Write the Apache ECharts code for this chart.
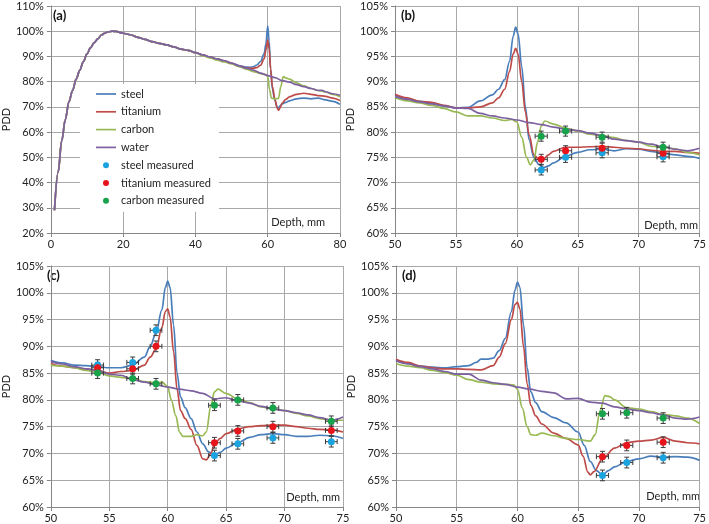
<!DOCTYPE html>
<html>
<head>
<meta charset="utf-8">
<script src="https://cdn.jsdelivr.net/npm/echarts@6/dist/echarts.min.js"></script>
<style>
  html, body { margin: 0; padding: 0; background: #fff; }
  #pdd { width: 709px; height: 524px; }
</style>
</head>
<body>
<div id="pdd"></div>
<script>
// ---- panel (a): full depth range, same build-up for every material ----
var aCommon = [[1,29],[2,44],[3,56.5],[4,65],[5,72],[6,76.5],[7,81],[8,84.5],[9,88],[10,91],[11,93.5],[12,95.5],[13,97],[14,98.5],[15,99.3],[16,99.8],[17,100],[18,99.9],[20,99.2],[22,98.6],[24,97.6],[26,96.8],[28,95.9],[30,95.2],[32,94.6],[34,93.8],[36,92.9],[38,92.4],[40,91.5]];
var aSteelTail = [[42,90.6],[44,89.8],[46,89],[48,88.2],[50,87.3],[52,86.4],[54,85.8],[55,85.7],[56,85.9],[57,86.6],[58,88],[59,91],[59.5,95],[60,102],[60.4,96],[60.8,85],[61.3,77],[62,72.5],[62.6,70],[63,69.5],[63.5,70.5],[64,71.2],[65,71.8],[66,72.4],[68,73.2],[70,73.5],[72,73.2],[74,73.5],[76,72.8],[78,72.2],[80,71]];
var aTitaniumTail = [[42,90.6],[44,89.8],[46,89],[48,88.2],[50,87.4],[52,86.3],[54,85.5],[56,85.3],[57,85.6],[58,86.5],[59,89],[59.5,92.5],[60,96.5],[60.4,93],[60.8,85],[61.3,78],[62,73],[62.6,69.5],[63,68.7],[63.4,69.5],[64,71.5],[65,73],[66,74],[68,75],[70,75.4],[72,75],[74,74.5],[76,74.2],[78,73.5],[80,72.5]];
var aCarbonTail = [[42,90.3],[44,89.4],[46,88.5],[48,87.8],[50,87],[52,86],[54,85],[56,84],[58,83.2],[59.5,82.8],[60,82],[60.5,77],[61,73.5],[62,73.2],[63,73.4],[63.6,78],[64.3,82],[65,81.5],[66,81],[68,79.5],[70,78.3],[72,77.3],[74,76.5],[76,75.9],[78,75],[80,74]];
var aWaterTail = [[42,90.6],[44,89.8],[46,89],[48,88.3],[50,87.3],[52,86.3],[54,85.4],[56,84.6],[58,83.4],[60,82.4],[62,81.6],[64,80.4],[66,79.8],[68,78.8],[70,78],[72,77.3],[74,76.5],[75,76.6],[76,76],[78,75.2],[80,74.6]];

// ---- panel (b) ----
var bSteel = [[50,87.3],[51,86.6],[52,86.1],[53,85.8],[54,85.2],[55,84.8],[56,84.9],[57,86.2],[58,87.4],[58.5,88.5],[59,90.4],[59.4,94],[59.7,99],[59.9,100.8],[60.1,99.5],[60.4,93],[60.7,85],[61,78.5],[61.4,75],[61.8,73.6],[62.2,73],[62.6,73.3],[63,73.9],[64,75.2],[65,76],[66,76.5],[67,76.6],[68,76.3],[69,76.7],[70,76.6],[71,76.2],[72,75.8],[73,75.5],[74,75.2],[75,74.8]];
var bTitanium = [[50,87.5],[51,86.8],[52,86.1],[53,85.9],[54,85.3],[55,84.8],[56,84.8],[57,85],[58,85.8],[58.5,86.8],[59,88.5],[59.4,92],[59.7,95.5],[59.9,96.6],[60.1,95.5],[60.4,90],[60.7,84],[61,79.5],[61.4,75.5],[61.8,74.6],[62.2,74.7],[62.6,75.5],[63,76.2],[64,77],[65,77],[66,77.1],[67,77.2],[68,77],[69,76.8],[70,76.7],[71,76.4],[72,76.2],[73,76.2],[74,76],[75,75.8]];
var bCarbon = [[50,86.8],[51,86.2],[52,85.8],[53,85.3],[54,84.7],[55,84],[56,83.2],[57,83.2],[58,82.8],[59,82.3],[59.6,82.5],[60,82],[60.4,79],[60.8,75],[61.1,73.5],[61.4,74.5],[61.7,78],[62,81.2],[62.3,82.2],[63,81.6],[64,80.8],[65,80.2],[66,79.6],[67,79.3],[68,78.9],[69,78.3],[70,78],[71,77.2],[72,77],[73,76.7],[74,76],[75,75.5]];
var bWater = [[50,87],[51,86.5],[52,86],[53,85.6],[54,85.2],[55,84.8],[56,84.7],[57,83.7],[58,83.2],[59,82.8],[60,82.4],[61,81.9],[62,81.5],[63,81],[64,80.6],[65,80.3],[66,79.8],[67,79.3],[68,78.6],[69,78.3],[70,78],[71,77.6],[72,77.1],[73,76.6],[74,76.3],[75,76.8]];
var bSteelM = [[62,72.5],[64,75],[67,75.9],[72,75.1]];
var bTitaniumM = [[62,74.6],[64,76.3],[67,76.8],[72,75.8]];
var bCarbonM = [[62,79.2],[64,80.2],[67,79],[72,77]];

// ---- panel (c) ----
var cSteel = [[50,87.4],[51,86.9],[52,86.5],[53,86.4],[54,86.2],[55,86],[56,86],[57,86.5],[58,88],[58.5,90],[59,92.5],[59.5,96.8],[59.8,101],[60,102.2],[60.2,101],[60.5,94],[60.8,85],[61.1,80.5],[61.5,78.5],[62,76.5],[62.5,74],[63,71.8],[63.5,70.3],[64,69.7],[64.5,70.2],[65,71],[66,72],[67,73],[68,73.5],[69,73.7],[70,73.5],[71,73.2],[72,73.2],[73,73.4],[74,73.3],[75,72.8]];
var cTitanium = [[50,86.8],[51,86.3],[52,86],[53,85.8],[54,85.5],[55,85],[56,85.3],[57,85.5],[58,86.5],[58.5,88],[59,89.5],[59.5,93.5],[59.8,96.5],[60,97],[60.2,95.5],[60.5,89],[60.8,82],[61.1,78],[61.5,76.5],[62,74.5],[62.5,71.5],[63,69],[63.3,68.8],[63.7,70],[64,71.8],[64.5,72.8],[65,73.7],[66,74.6],[67,75],[68,75.2],[69,75.3],[70,75.3],[71,75],[72,74.7],[73,74.5],[74,74.4],[75,74]];
var cCarbon = [[50,86.5],[51,86.3],[52,86],[53,85.5],[54,85.2],[55,84.5],[56,84.2],[57,84],[58,83.4],[59,83.2],[59.5,83.3],[60,82.5],[60.3,80],[60.7,77],[61,74],[61.3,73.2],[62,73.2],[62.5,73.5],[63,73.3],[63.3,74],[63.7,79],[64,81.5],[64.3,82],[65,81.2],[66,80.2],[67,79.5],[68,78.7],[69,78.3],[70,78],[71,77.5],[72,77],[73,76.5],[74,76.2],[75,76.2]];
var cWater = [[50,87.2],[51,86.7],[52,86.2],[53,85.8],[54,85.5],[55,84.8],[56,84.6],[57,83.8],[58,83.3],[59,82.8],[60,82.4],[61,82],[62,81.7],[63,81.2],[64,80.2],[65,80.4],[66,79.8],[67,79.4],[68,78.8],[69,78.3],[70,78],[71,77.6],[72,77.2],[73,76.7],[74,76.2],[75,76.8]];
var cSteelM = [[54,86.5],[57,87],[59,93],[64,69.6],[66,71.8],[69,72.9],[74,72.2]];
var cTitaniumM = [[54,86],[57,85.8],[59,90],[64,72],[66,74.2],[69,75],[74,74.3]];
var cCarbonM = [[54,85],[57,84],[59,83],[64,79],[66,80],[69,78.5],[74,76]];

// ---- panel (d) ----
var dSteel = [[50,87.5],[51,86.8],[52,86.3],[53,86.1],[54,86],[55,86.2],[56,86.4],[56.6,87],[57,87.6],[57.5,87.6],[58,87.8],[58.5,89.2],[59,91.5],[59.5,96.5],[59.8,100.5],[60,102],[60.2,101],[60.5,94],[60.8,86],[61.1,81.5],[61.5,79.5],[62,77.8],[63,76.7],[64,75.7],[65,74],[65.5,71.5],[66,68.5],[66.5,66.8],[67,66],[67.5,66.8],[68,67.5],[69,68.5],[70,69],[71,69.5],[72,69.3],[73,69.4],[74,69.3],[75,68.7]];
var dTitanium = [[50,87.6],[51,87],[52,86.3],[53,86],[54,85.8],[55,85.8],[56,85.7],[57,85.6],[58,86.4],[58.5,88],[59,90.5],[59.5,95],[59.8,97.8],[60,98.2],[60.2,97],[60.5,90],[60.8,83],[61.1,79],[61.5,77],[62,75.5],[63,73.8],[64,72.8],[65,71.6],[65.4,69.5],[65.8,66.5],[66,66],[66.3,66.6],[67,69],[68,71],[69,72],[70,72.3],[71,72.5],[72,73],[73,72.3],[74,72],[75,71.8]];
var dCarbon = [[50,86.8],[51,86.3],[52,86],[53,85.5],[54,85.1],[55,84.6],[56,83.8],[57,83.3],[58,83],[59,82.9],[59.7,82.8],[60,82],[60.4,78.5],[60.8,75],[61.1,73.5],[61.5,73.4],[62,73.8],[63,73.3],[64,72.8],[65,72.6],[66,72.3],[66.4,73.5],[66.8,78],[67.2,80.8],[67.6,80.6],[68,80],[69,78.5],[70,78.3],[71,77.8],[72,77.3],[73,77],[74,76.6],[75,75.6]];
var dWater = [[50,87.3],[51,86.7],[52,86.2],[53,85.8],[54,85.3],[55,84.8],[56,84.8],[57,83.7],[58,83.2],[59,82.9],[60,82.4],[61,82],[62,81.6],[63,81.3],[64,80.2],[65,80.3],[66,79.6],[67,79.4],[68,78.7],[69,78.3],[70,78],[71,77.6],[72,77.2],[73,76.6],[74,76.4],[75,76.8]];
var dSteelM = [[67,65.9],[69,68.3],[72,69.2]];
var dTitaniumM = [[67,69.4],[69,71.5],[72,72.1]];
var dCarbonM = [[67,77.4],[69,77.6],[72,76.6]];

// measurement uncertainty (mm, %)
var X_ERR = 0.5;
var Y_ERR = 1;

var lineNames = ["steel", "titanium", "carbon", "water"];
var lineColors = ["#4a7ebb", "#be4b48", "#98b954", "#7d60a0"];
var measNames = ["steel measured", "titanium measured", "carbon measured"];
var measColors = ["#1aa3de", "#e8141b", "#17a34a"];

var FONT = "Lato";
var gridColor = "#a9a9a9";
var axisColor = "#868686";

var panels = [
  { label: "(a)", grid: { left: 47, top: 6, width: 293, height: 227 },
    x: [0, 80, 20], y: [20, 110, 10], nameGap: 37, depthRight: 15, depthUp: 16,
    lines: [aCommon.concat(aSteelTail), aCommon.concat(aTitaniumTail), aCommon.concat(aCarbonTail), aCommon.concat(aWaterTail)],
    meas: [[], [], []] },
  { label: "(b)", grid: { left: 395, top: 6, width: 308, height: 227 },
    x: [50, 75, 5], y: [60, 105, 5], nameGap: 33, depthRight: 5, depthUp: 13,
    lines: [bSteel, bTitanium, bCarbon, bWater],
    meas: [bSteelM, bTitaniumM, bCarbonM] },
  { label: "(c)", grid: { left: 41, top: 266, width: 302, height: 241 },
    x: [50, 75, 5], y: [60, 105, 5], nameGap: 33, depthRight: 3, depthUp: 15,
    lines: [cSteel, cTitanium, cCarbon, cWater],
    meas: [cSteelM, cTitaniumM, cCarbonM] },
  { label: "(d)", grid: { left: 396, top: 266, width: 308, height: 242 },
    x: [50, 75, 5], y: [60, 105, 5], nameGap: 36, depthRight: 4, depthUp: 17,
    lines: [dSteel, dTitanium, dCarbon, dWater],
    meas: [dSteelM, dTitaniumM, dCarbonM] }
];

function renderErr(params, api) {
  var x = api.value(0);
  var y = api.value(1);
  var l = api.coord([x - X_ERR, y]);
  var r = api.coord([x + X_ERR, y]);
  var t = api.coord([x, y + Y_ERR]);
  var b = api.coord([x, y - Y_ERR]);
  var cap = 2.5;
  var style = { stroke: "#3a3a3a", lineWidth: 1 };
  function seg(x1, y1, x2, y2) {
    return { type: "line", shape: { x1: x1, y1: y1, x2: x2, y2: y2 }, style: style };
  }
  return {
    type: "group",
    children: [
      seg(l[0], l[1], r[0], r[1]),
      seg(l[0], l[1] - cap, l[0], l[1] + cap),
      seg(r[0], r[1] - cap, r[0], r[1] + cap),
      seg(t[0], t[1], b[0], b[1]),
      seg(t[0] - cap, t[1], t[0] + cap, t[1]),
      seg(b[0] - cap, b[1], b[0] + cap, b[1])
    ]
  };
}

var grids = [], xAxes = [], yAxes = [], series = [], graphics = [];

panels.forEach(function (p, i) {
  grids.push(p.grid);
  xAxes.push({
    type: "value", gridIndex: i, min: p.x[0], max: p.x[1], interval: p.x[2],
    axisLine: { lineStyle: { color: axisColor } },
    axisTick: { length: 4, lineStyle: { color: axisColor } },
    splitLine: { lineStyle: { color: gridColor } },
    axisLabel: { color: "#222", fontFamily: FONT, fontSize: 11, margin: 6 }
  });
  yAxes.push({
    type: "value", gridIndex: i, min: p.y[0], max: p.y[1], interval: p.y[2],
    name: "PDD", nameLocation: "middle", nameGap: p.nameGap,
    nameTextStyle: { color: "#222", fontFamily: FONT, fontSize: 11 },
    axisLine: { show: true, lineStyle: { color: axisColor } },
    axisTick: { show: true, length: 4, lineStyle: { color: axisColor } },
    splitLine: { lineStyle: { color: gridColor } },
    axisLabel: { color: "#222", fontFamily: FONT, fontSize: 11, margin: 7, formatter: "{value}%" }
  });

  p.lines.forEach(function (d, k) {
    series.push({
      name: lineNames[k], type: "line", xAxisIndex: i, yAxisIndex: i,
      data: d, symbol: "none", smooth: 0.35, smoothMonotone: "x",
      clip: true, z: 2,
      lineStyle: { color: lineColors[k], width: 1.7 },
      itemStyle: { color: lineColors[k] }
    });
  });

  p.meas.forEach(function (d, k) {
    series.push({
      type: "custom", xAxisIndex: i, yAxisIndex: i,
      renderItem: renderErr, data: d, z: 3, silent: true,
      encode: { x: 0, y: 1 }
    });
    series.push({
      name: measNames[k], type: "scatter", xAxisIndex: i, yAxisIndex: i,
      data: d, symbol: "circle", symbolSize: 7, z: 4,
      itemStyle: { color: measColors[k], opacity: 1 }
    });
  });

  var g = p.grid;
  graphics.push({
    type: "text", left: g.left + 6, top: g.top + 3,
    style: { text: p.label, font: "bold 13px " + FONT, fill: "#111" }
  });
  graphics.push({
    type: "text", right: 709 - (g.left + g.width) + p.depthRight, top: g.top + g.height - p.depthUp,
    style: { text: "Depth, mm", font: "11px " + FONT, fill: "#222" }
  });
});

// thin bar icon so the line entries show a plain line, no marker
var lineIcon = "path://M0,0H20V1.7H0Z";
var legendData = lineNames.map(function (n) {
  return { name: n, icon: lineIcon };
}).concat(measNames.map(function (n, k) {
  return { name: n, icon: "circle", itemStyle: { color: measColors[k] } };
}));

var myChart = echarts.init(document.getElementById("pdd"));
myChart.setOption({
  animation: false,
  backgroundColor: "#fff",
  grid: grids,
  xAxis: xAxes,
  yAxis: yAxes,
  legend: {
    orient: "vertical", left: 80, top: 84,
    backgroundColor: "#fff", padding: [3, 8, 4, 16],
    itemWidth: 20, itemHeight: 6, itemGap: 3.8,
    textStyle: { color: "#222", fontFamily: FONT, fontSize: 11, lineHeight: 14 },
    data: legendData,
    selectedMode: false
  },
  graphic: graphics,
  series: series
});
</script>
</body>
</html>
